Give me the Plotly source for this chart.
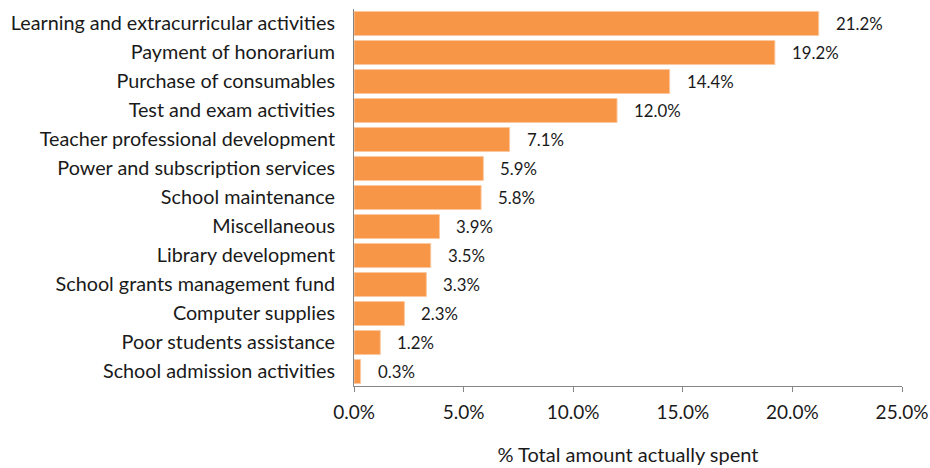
import plotly.graph_objects as go

categories = [
    "Learning and extracurricular activities",
    "Payment of honorarium",
    "Purchase of consumables",
    "Test and exam activities",
    "Teacher professional development",
    "Power and subscription services",
    "School maintenance",
    "Miscellaneous",
    "Library development",
    "School grants management fund",
    "Computer supplies",
    "Poor students assistance",
    "School admission activities",
]
shares = [21.2, 19.2, 14.4, 12.0, 7.1, 5.9, 5.8, 3.9, 3.5, 3.3, 2.3, 1.2, 0.3]
x_ticks = [0, 5, 10, 15, 20, 25]
x_tick_labels = ["0.0%", "5.0%", "10.0%", "15.0%", "20.0%", "25.0%"]

FONT = "Lato, Calibri, Carlito, sans-serif"
BAR = "#F79646"
AXIS = "#868686"

fig = go.Figure(
    go.Bar(
        x=shares,
        y=categories,
        orientation="h",
        marker=dict(color=BAR, line=dict(color="#FBC8A0", width=1)),
        hoverinfo="skip",
    )
)

for c, v in zip(categories, shares):
    fig.add_annotation(
        x=v, y=c, text=f"{v:.1f}%", showarrow=False,
        xanchor="left", xshift=15,
        font=dict(family=FONT, size=16.8, color="#1a1a1a"),
    )

fig.update_layout(
    width=930, height=468,
    margin=dict(l=354, r=28, t=9, b=82),
    paper_bgcolor="white", plot_bgcolor="white",
    bargap=0.17,
    showlegend=False,
    font=dict(family=FONT, color="#1a1a1a"),
)
fig.update_xaxes(
    range=[0, 25], tickvals=x_ticks, ticktext=x_tick_labels,
    showgrid=False, zeroline=False, automargin=False,
    showline=True, linecolor=AXIS, linewidth=1,
    ticks="outside", ticklen=5, tickcolor=AXIS, ticklabelstandoff=4,
    tickfont=dict(family=FONT, size=19),
    title=dict(text="% Total amount actually spent", font=dict(family=FONT, size=20), standoff=26),
)
fig.update_yaxes(
    categoryorder="array", categoryarray=categories[::-1],
    showgrid=False, zeroline=False, automargin=False,
    showline=True, linecolor=AXIS, linewidth=1,
    ticks="", ticklabelstandoff=14,
    tickfont=dict(family=FONT, size=19.8),
)

fig.write_html("out.html")
